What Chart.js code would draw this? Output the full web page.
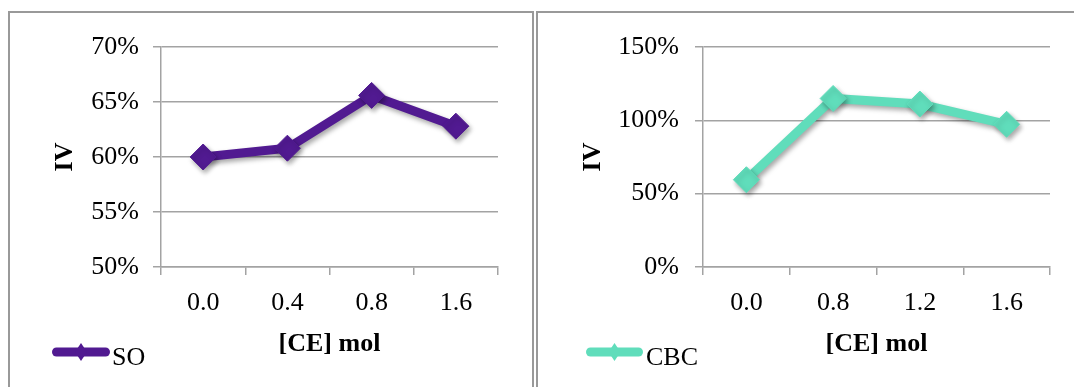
<!DOCTYPE html>
<html>
<head>
<meta charset="utf-8">
<script src="https://cdn.jsdelivr.net/npm/chart.js@4.4.0/dist/chart.umd.min.js"></script>
<style>
  html, body { margin: 0; padding: 0; background: #fff; overflow: hidden; }
  body { width: 1074px; height: 387px; position: relative; }
  .panel { position: absolute; border: 2px solid #999; border-bottom: none; box-sizing: border-box; }
  canvas { position: absolute; top: 0; }
</style>
</head>
<body>
<div class="panel" style="left:8px; top:11px; width:526px; height:400px;"></div>
<div class="panel" style="left:536px; top:11px; width:560px; height:400px;"></div>
<canvas id="chartSO" width="534" height="387" style="left:0px"></canvas>
<canvas id="chartCBC" width="539" height="387" style="left:535px"></canvas>
<script>
// dados
const categoriesSO = ['0.0', '0.4', '0.8', '1.6'];
const valuesSO = [60.0, 60.8, 65.6, 62.8];
const ticksSO = [50, 55, 60, 65, 70];

const categoriesCBC = ['0.0', '0.8', '1.2', '1.6'];
const valuesCBC = [59.5, 114.9, 111.1, 97.3];
const ticksCBC = [0, 50, 100, 150];

const colorSO = '#511A91';
const colorCBC = '#60DDBB';
const gridColor = '#a3a3a3';
const serif = "'Liberation Serif', 'Times New Roman', serif";

// sombra leve debaixo da linha e dos marcadores
const shadowPlugin = {
    id: 'shadow',
    beforeDatasetsDraw(chart) {
        const ctx = chart.ctx;
        ctx.save();
        ctx.shadowColor = 'rgba(0,0,0,0.35)';
        ctx.shadowBlur = 5;
        ctx.shadowOffsetX = 2;
        ctx.shadowOffsetY = 3;
    },
    afterDatasetsDraw(chart) {
        chart.ctx.restore();
    }
};

// legenda no canto inferior esquerdo (linha + losango + texto)
const legendPlugin = {
    id: 'legendaLinha',
    afterDraw(chart, args, opts) {
        const ctx = chart.ctx;
        const ds = chart.data.datasets[0];
        const y = opts.y;
        ctx.save();
        ctx.strokeStyle = ds.borderColor;
        ctx.fillStyle = ds.borderColor;
        ctx.lineWidth = 9;
        ctx.lineCap = 'round';
        ctx.beginPath();
        ctx.moveTo(opts.x1 + 4.5, y);
        ctx.lineTo(opts.x2 - 4.5, y);
        ctx.stroke();
        const cx = (opts.x1 + opts.x2) / 2;
        ctx.beginPath();
        ctx.moveTo(cx, y - 9);
        ctx.lineTo(cx + 6, y);
        ctx.lineTo(cx, y + 9);
        ctx.lineTo(cx - 6, y);
        ctx.closePath();
        ctx.fill();
        ctx.fillStyle = '#000';
        ctx.font = '26px ' + serif;
        ctx.textBaseline = 'alphabetic';
        ctx.fillText(ds.label, opts.textX, opts.baseline);
        ctx.restore();
    }
};

function makeChart(id, labels, values, tickList, label, color, cfg) {
    const ctx = document.getElementById(id).getContext('2d');
    return new Chart(ctx, {
        type: 'line',
        data: {
            labels: labels,
            datasets: [{
                label: label,
                data: values,
                borderColor: color,
                backgroundColor: color,
                borderWidth: 9,
                borderJoinStyle: 'miter',
                pointStyle: 'rectRot',
                pointRadius: 13,
                pointBorderWidth: 1,
                pointBackgroundColor: color,
                pointBorderColor: color,
                tension: 0,
                fill: false,
            }]
        },
        options: {
            responsive: false,
            animation: false,
            devicePixelRatio: 1,
            layout: { padding: { top: 47, right: cfg.rightPad, left: 0, bottom: 0 } },
            plugins: {
                legend: { display: false },
                tooltip: { enabled: false },
                legendaLinha: cfg.legend,
            },
            scales: {
                x: {
                    offset: true,
                    grid: {
                        offset: true,
                        drawOnChartArea: false,
                        drawTicks: true,
                        tickLength: 8,
                        color: gridColor,
                        lineWidth: 1.5,
                    },
                    border: { color: gridColor, width: 1.5 },
                    ticks: {
                        color: '#000',
                        font: { family: serif, size: 26 },
                        padding: 13,
                        maxRotation: 0,
                    },
                    title: {
                        display: true,
                        text: '[CE] mol',
                        color: '#000',
                        font: { family: serif, size: 26, weight: 'bold' },
                        padding: { top: 0, bottom: 27 },
                    },
                    afterFit(scale) { scale.height = 120; },
                },
                y: {
                    min: tickList[0],
                    max: tickList[tickList.length - 1],
                    afterBuildTicks(scale) {
                        scale.ticks = tickList.map(v => ({ value: v }));
                    },
                    grid: {
                        color: gridColor,
                        lineWidth: 1.5,
                        tickLength: 8,
                    },
                    border: { color: gridColor, width: 1.5 },
                    ticks: {
                        color: '#000',
                        font: { family: serif, size: 26 },
                        padding: cfg.tickPad,
                        callback: v => v + '%',
                    },
                    title: {
                        display: true,
                        text: 'IV',
                        color: '#000',
                        font: { family: serif, size: 26, weight: 'bold' },
                        padding: { top: cfg.titlePad, bottom: 0 },
                    },
                    afterFit(scale) { scale.width = cfg.axisWidth; },
                }
            }
        },
        plugins: [shadowPlugin, legendPlugin]
    });
}

document.addEventListener('DOMContentLoaded', function () {
    makeChart('chartSO', categoriesSO, valuesSO, ticksSO, 'SO', colorSO, {
        rightPad: 36, axisWidth: 161, tickPad: 14, titlePad: 50,
        legend: { x1: 52, x2: 110, y: 352, textX: 112, baseline: 365 }
    });
    makeChart('chartCBC', categoriesCBC, valuesCBC, ticksCBC, 'CBC', colorCBC, {
        rightPad: 24, axisWidth: 168, tickPad: 16, titlePad: 43,
        legend: { x1: 51, x2: 108, y: 352, textX: 111, baseline: 365 }
    });
});
</script>
</body>
</html>
